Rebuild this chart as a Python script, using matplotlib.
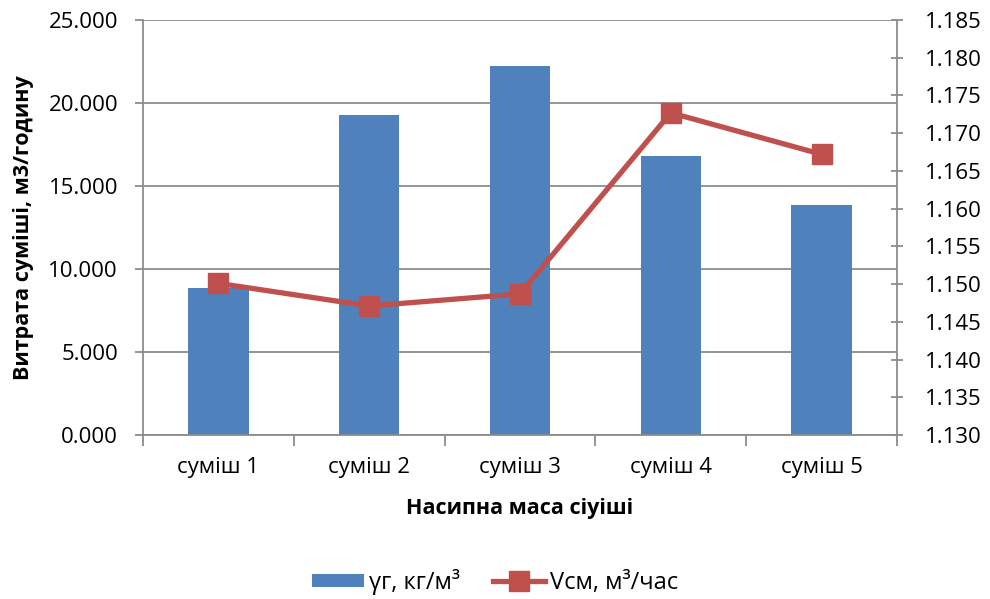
import matplotlib
matplotlib.use("Agg")
import matplotlib.pyplot as plt
from matplotlib.ticker import MultipleLocator, FuncFormatter
import numpy as np

categories = ["суміш 1", "суміш 2", "суміш 3", "суміш 4", "суміш 5"]
gamma_values = [8.86, 19.26, 22.23, 16.83, 13.86]
v_values = [1.1501, 1.1471, 1.1487, 1.1727, 1.1672]

bar_label = "γг, кг/м³"
line_label = "Vсм, м³/час"

plt.rcParams["font.family"] = ["Open Sans", "DejaVu Sans"]

grid_col = "#8c8c8c"
bar_col = "#4f81bd"
line_col = "#c0504d"

fig = plt.figure(figsize=(9.9, 5.99), dpi=100)
ax = fig.add_axes([143 / 990, 1 - 435 / 599, (897 - 143) / 990, (435 - 20) / 599])
ax2 = ax.twinx()

x = np.arange(len(categories))
ax.bar(x, gamma_values, width=0.4, color=bar_col, zorder=2, label=bar_label)
ax.set_xlim(-0.5, len(categories) - 0.5)
ax.set_ylim(0, 25)
ax.yaxis.set_major_locator(MultipleLocator(5))
ax.yaxis.set_major_formatter(FuncFormatter(lambda v, p: f"{v:.3f}"))
ax.grid(axis="y", color=grid_col, linewidth=1.3, zorder=0)
ax.set_axisbelow(True)

ax2.plot(x, v_values, color=line_col, linewidth=3.8, marker="s", markersize=14.5,
         markerfacecolor=line_col, markeredgecolor=line_col, label=line_label, zorder=3)
ax2.set_ylim(1.130, 1.185)
ax2.yaxis.set_major_locator(MultipleLocator(0.005))
ax2.yaxis.set_major_formatter(FuncFormatter(lambda v, p: f"{v:.3f}"))

ax.spines["top"].set_visible(False)
ax2.spines["top"].set_visible(False)
ax2.spines["left"].set_visible(False)
ax2.spines["bottom"].set_visible(False)
ax.spines["right"].set_visible(False)
for sp in [ax.spines["left"], ax.spines["bottom"], ax2.spines["right"]]:
    sp.set_color(grid_col)
    sp.set_linewidth(1.3)

# category ticks sit between the bars
ax.set_xticks(np.arange(-0.5, len(categories), 1.0))
ax.set_xticklabels([])
ax.set_xticks(x, minor=True)
ax.set_xticklabels(categories, minor=True)
ax.tick_params(axis="x", which="major", length=8, width=1.3, color=grid_col, direction="out")
ax.tick_params(axis="x", which="minor", length=0, pad=16, labelsize=16)
ax.tick_params(axis="y", length=6, width=1.3, color=grid_col, direction="out", pad=12, labelsize=16)
ax2.tick_params(axis="y", length=8, width=1.3, color=grid_col, direction="inout", pad=16, labelsize=16)

ax.set_ylabel("Витрата суміші, м3/годину", fontsize=15.5, fontweight="bold", labelpad=10)
ax.set_xlabel("Насипна маса сіуіші", fontsize=15.5, fontweight="bold", labelpad=14)

h1, l1 = ax.get_legend_handles_labels()
h2, l2 = ax2.get_legend_handles_labels()
fig.legend(h1 + h2, l1 + l2, loc="center", bbox_to_anchor=(0.5, 1 - 582 / 599), ncol=2,
           frameon=False, fontsize=17, handlelength=2.2, handleheight=0.5,
           columnspacing=1.4, handletextpad=0.2)

fig.savefig("out.png", dpi=100, facecolor="white")
